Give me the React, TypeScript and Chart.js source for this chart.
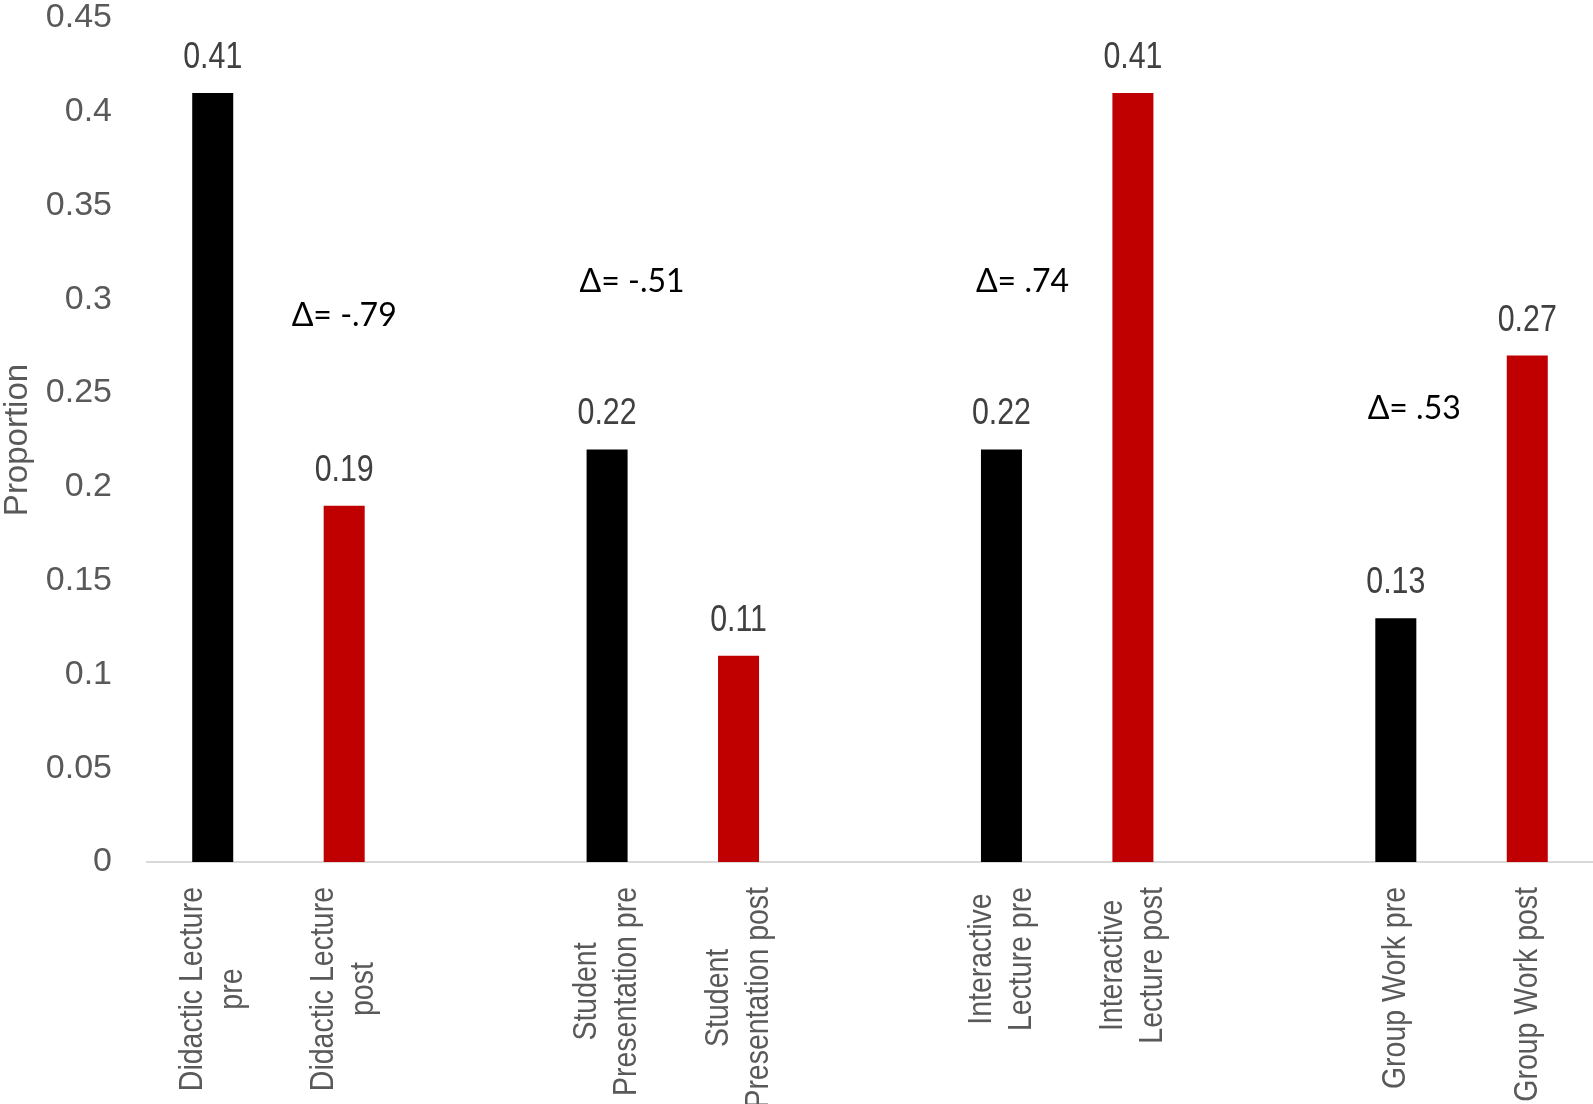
import React, { useEffect, useRef } from 'react';
import { Chart, registerables } from 'chart.js';

Chart.register(...registerables);

// ---- data ----
const categoryLabels: string[][] = [
  ['Didactic Lecture', 'pre'],
  ['Didactic Lecture', 'post'],
  [],
  ['Student', 'Presentation pre'],
  ['Student', 'Presentation post'],
  [],
  ['Interactive', 'Lecture pre'],
  ['Interactive', 'Lecture post'],
  [],
  ['Group Work pre'],
  ['Group Work post'],
];
const proportions: (number | null)[] = [0.41, 0.19, null, 0.22, 0.11, null, 0.22, 0.41, null, 0.13, 0.27];
const phases: string[] = ['pre', 'post', '', 'pre', 'post', '', 'pre', 'post', '', 'pre', 'post'];
const deltaTexts: string[] = ['Δ= -.79', 'Δ= -.51', 'Δ= .74', 'Δ= .53'];
const deltaCategoryPos: number[] = [1.0, 3.19, 6.16, 9.14];
const deltaValuePos: number[] = [0.286, 0.304, 0.304, 0.236];
const yTickValues: number[] = [0, 0.05, 0.1, 0.15, 0.2, 0.25, 0.3, 0.35, 0.4, 0.45];
const yTitle = 'Proportion';

const phaseColors: Record<string, string> = { pre: '#000000', post: '#C00000', '': '#000000' };

const FAMILY = "'Liberation Sans', Arial, sans-serif";
const CONDENSE_VALUES = 0.82;
const CONDENSE_CATS = 0.85;

export default function App() {
  const ref = useRef<HTMLCanvasElement | null>(null);

  useEffect(() => {
    document.body.style.margin = '0';
    const canvas = ref.current;
    if (!canvas) return;

    const overlay = {
      id: 'overlay',
      afterDatasetsDraw(chart: any) {
        const ctx: CanvasRenderingContext2D = chart.ctx;
        const xs = chart.scales.x;
        const ys = chart.scales.y;
        const meta = chart.getDatasetMeta(0);
        ctx.save();
        // value labels (condensed grey text)
        ctx.font = `37px ${FAMILY}`;
        ctx.fillStyle = '#404040';
        ctx.textAlign = 'center';
        ctx.textBaseline = 'alphabetic';
        meta.data.forEach((el: any, i: number) => {
          const v = proportions[i];
          if (v === null || v === undefined) return;
          ctx.save();
          ctx.translate(el.x, el.y - 25);
          ctx.scale(CONDENSE_VALUES, 1);
          ctx.fillText(v.toFixed(2), 0, 0);
          ctx.restore();
        });
        // category labels, rotated, lines centred on the longest line
        ctx.font = `33.5px ${FAMILY}`;
        ctx.fillStyle = '#595959';
        ctx.textBaseline = 'middle';
        const lh = 40;
        categoryLabels.forEach((lines, i) => {
          if (!lines.length) return;
          const x = xs.getPixelForValue(i);
          const w = Math.max(...lines.map((l) => ctx.measureText(l).width));
          ctx.save();
          ctx.translate(x, xs.top + 25);
          ctx.rotate(-Math.PI / 2);
          ctx.scale(CONDENSE_CATS, 1);
          ctx.textAlign = 'center';
          lines.forEach((l, k) => {
            ctx.fillText(l, -w / 2, (k - (lines.length - 1) / 2) * lh);
          });
          ctx.restore();
        });
        // delta annotations
        ctx.font = `32px Lato, 'Open Sans', sans-serif`;
        ctx.fillStyle = '#000000';
        ctx.textAlign = 'center';
        ctx.textBaseline = 'alphabetic';
        deltaTexts.forEach((t, i) => {
          ctx.fillText(t, xs.getPixelForValue(deltaCategoryPos[i]), ys.getPixelForValue(deltaValuePos[i]));
        });
        ctx.restore();
      },
    };

    const chart = new Chart(canvas, {
      type: 'bar',
      data: {
        labels: categoryLabels.map((l, i) => (l.length ? l.join(' ') : `gap${i}`)),
        datasets: [
          {
            data: proportions as any,
            backgroundColor: phases.map((p) => phaseColors[p]),
            barPercentage: 0.312,
            categoryPercentage: 1,
          },
        ],
      },
      options: {
        responsive: false,
        maintainAspectRatio: false,
        animation: false,
        layout: { padding: { top: 18, right: 0, left: 0, bottom: 0 } },
        plugins: { legend: { display: false }, tooltip: { enabled: false } },
        scales: {
          x: {
            grid: { display: false, drawTicks: false },
            border: { display: true, color: '#D9D9D9', width: 2 },
            ticks: { display: false },
            afterFit: (s: any) => {
              s.height = 242;
            },
          },
          y: {
            min: 0,
            max: 0.45,
            afterBuildTicks: (s: any) => {
              s.ticks = yTickValues.map((v) => ({ value: v }));
            },
            grid: { display: false, drawTicks: true, tickLength: 35 },
            border: { display: false },
            ticks: {
              padding: 0,
              color: '#595959',
              font: { family: FAMILY, size: 34, lineHeight: 0.9 },
              callback: (v: any) => String(Number(Number(v).toFixed(2))),
            },
            title: {
              display: true,
              text: yTitle,
              color: '#595959',
              font: { family: FAMILY, size: 33, lineHeight: 1.1 },
              padding: 0,
            },
            afterFit: (s: any) => {
              s.width = 147;
            },
          },
        },
      } as any,
      plugins: [overlay],
    });
    return () => chart.destroy();
  }, []);

  return (
    <div style={{ width: 1593, height: 1104, background: '#fff' }}>
      <canvas ref={ref} width={1593} height={1104} style={{ display: 'block' }} />
    </div>
  );
}
